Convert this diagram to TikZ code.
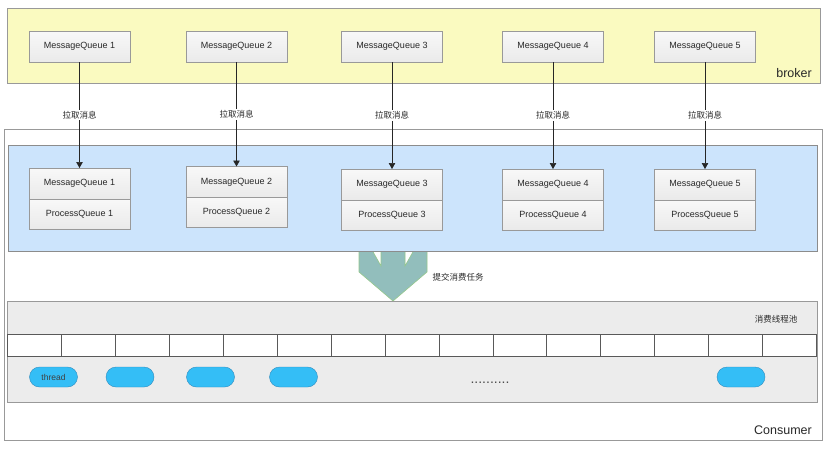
\documentclass[tikz,border=0pt]{standalone}
\usepackage{fontspec}
\setmainfont{Liberation Sans}
\newfontfamily\cjk{Noto Sans CJK SC}
\usetikzlibrary{arrows.meta}
\definecolor{brokerfill}{RGB}{250,250,192}
\definecolor{bluefill}{RGB}{204,228,252}
\definecolor{boxtop}{RGB}{248,248,248}
\definecolor{boxbot}{RGB}{234,234,234}
\definecolor{poolfill}{RGB}{236,236,236}
\definecolor{threadfill}{RGB}{52,190,246}
\definecolor{threaddraw}{RGB}{48,140,190}
\definecolor{arrowfill}{RGB}{146,190,188}
\definecolor{arrowedge}{RGB}{150,200,140}
\definecolor{txt}{RGB}{40,40,40}
\tikzset{
  container/.style={draw=#1, inner sep=0pt, outer sep=0pt, anchor=north west},
  qbox/.style={draw=black!40, top color=boxtop, bottom color=boxbot, minimum width=101pt, minimum height=31pt, inner sep=0pt, outer sep=0pt, font=\fontsize{9}{10}\selectfont, text=txt},
  pull/.style={draw=black!85, line width=0.7pt, -{Triangle[width=6.5pt,length=6pt]}},
  pulllabel/.style={fill=white, inner sep=1.5pt, font=\cjk\fontsize{8.5}{10}\selectfont, text=txt},
  cell/.style={draw=black!65, fill=white, line width=0.7pt, minimum width=53.93pt, minimum height=22pt, inner sep=0pt, outer sep=0pt, anchor=north west},
  thread/.style={draw=threaddraw, fill=threadfill, rounded corners=10pt, minimum width=48pt, minimum height=20pt, inner sep=0pt, font=\fontsize{8.5}{10}\selectfont, text=black!75},
  biglabel/.style={font=\fontsize{12.5}{14}\selectfont, text=txt, inner sep=0pt}
}
\begin{document}
\begin{tikzpicture}[x=1pt,y=-1pt]
\useasboundingbox (0,0) rectangle (830,450);
% consumer container
\node[container=black!40, fill=white, minimum width=818pt, minimum height=311pt] (consumer) at (4,129) {};
\node[biglabel, anchor=south east] (conslabel) at (812,435) {Consumer};
% broker
\node[container=black!40, fill=brokerfill, minimum width=813pt, minimum height=75pt] (broker) at (7,8) {};
\node[biglabel, anchor=south east] (brokerlabel) at (812,78) {broker};
% big arrow (behind blue panel)
\path[fill=arrowfill, draw=arrowedge, line width=0.6pt, line join=miter]
  (359,250) -- (372,250) -- (381,266) -- (381,250) -- (405,250) -- (405,266) -- (414,250)
  -- (427,250) -- (427,272) -- (393,301) -- (359,272) -- cycle;
% blue panel
\node[container=black!45, fill=bluefill, minimum width=809pt, minimum height=106pt] (panel) at (8,145) {};
\node[font=\cjk\fontsize{8.5}{10}\selectfont, text=txt, anchor=west] (submit) at (429,277) {提交消费任务};
% thread pool
\node[container=black!40, fill=poolfill, minimum width=810pt, minimum height=101pt] (pool) at (7,301) {};
\node[font=\cjk\fontsize{8.5}{10}\selectfont, text=txt, anchor=east] (poollabel) at (801,319) {消费线程池};
\foreach \i in {0,...,14} {
  \node[cell] (c\i) at ({7.5+\i*53.93},334) {};
}
\node[thread] (t1) at (53.5,377) {thread};
\node[thread] (t2) at (130,377) {};
\node[thread] (t3) at (210.5,377) {};
\node[thread] (t4) at (293.5,377) {};
\node[thread] (t5) at (741,377) {};
\node[font=\fontsize{14}{14}\selectfont, text=black!70, inner sep=0pt, anchor=base] (dots) at (490,383) {..........};
% top queues
\node[qbox] (b1) at (79.5,46.5) {MessageQueue 1};
\node[qbox] (b2) at (236.5,46.5) {MessageQueue 2};
\node[qbox] (b3) at (392,46.5) {MessageQueue 3};
\node[qbox] (b4) at (553,46.5) {MessageQueue 4};
\node[qbox] (b5) at (705,46.5) {MessageQueue 5};
% consumer-side queues
\node[qbox] (m1) at (79.5,183.5) {MessageQueue 1};
\node[qbox, minimum height=30pt] (p1) at (79.5,214) {ProcessQueue 1};
\node[qbox] (m2) at (236.5,182) {MessageQueue 2};
\node[qbox, minimum height=30pt] (p2) at (236.5,212.5) {ProcessQueue 2};
\node[qbox] (m3) at (392,184.5) {MessageQueue 3};
\node[qbox, minimum height=30pt] (p3) at (392,215) {ProcessQueue 3};
\node[qbox] (m4) at (553,184.5) {MessageQueue 4};
\node[qbox, minimum height=30pt] (p4) at (553,215) {ProcessQueue 4};
\node[qbox] (m5) at (705,184.5) {MessageQueue 5};
\node[qbox, minimum height=30pt] (p5) at (705,215) {ProcessQueue 5};
% pull arrows
\foreach \i in {1,...,5} {
  \draw[pull] (b\i.south) -- node[pulllabel, pos=0.5] {拉取消息} (m\i.north);
}
\end{tikzpicture}
\end{document}
